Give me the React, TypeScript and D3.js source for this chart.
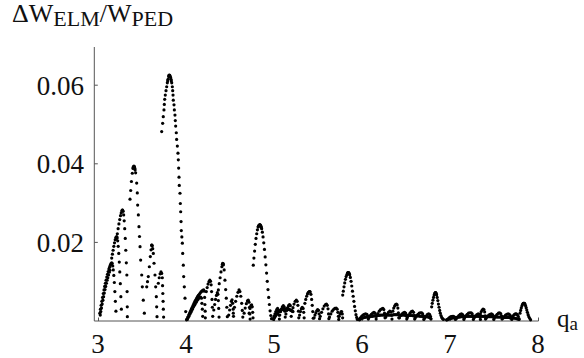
import React from "react";
import * as d3 from "d3";

const xTicks = [3, 4, 5, 6, 7, 8];
const yTicks = [0.02, 0.04, 0.06];
const yTickLabels = ["0.02", "0.04", "0.06"];

// each arc: [q_a, dW/W] points
const arcA1: [number, number][] = [
  [3.015, 0.002], [3.022, 0.003], [3.03, 0.004], [3.038, 0.005], [3.046, 0.006], [3.054, 0.007],
  [3.062, 0.0079], [3.07, 0.0088], [3.078, 0.0096], [3.086, 0.0104], [3.094, 0.0112], [3.102, 0.0119],
  [3.11, 0.0126], [3.118, 0.0132], [3.126, 0.0137], [3.134, 0.0142], [3.142, 0.0146], [3.15, 0.0148],
  [3.156, 0.0146], [3.162, 0.014], [3.168, 0.013], [3.174, 0.0116], [3.18, 0.0098], [3.186, 0.0075],
  [3.192, 0.005], [3.198, 0.0025],
];
const arcA1b: [number, number][] = [
  [3.02, 0.0015], [3.026, 0.0024], [3.034, 0.0033], [3.042, 0.0043], [3.05, 0.0053], [3.058, 0.0062],
  [3.066, 0.0071], [3.074, 0.008], [3.082, 0.0088], [3.09, 0.0096], [3.098, 0.0104], [3.106, 0.011],
  [3.114, 0.0117], [3.122, 0.0124], [3.13, 0.0129],
];
const arcA2: [number, number][] = [
  [3.15, 0.016], [3.158, 0.017], [3.166, 0.018], [3.174, 0.019], [3.182, 0.0199], [3.19, 0.0207],
  [3.198, 0.0213], [3.206, 0.0215], [3.212, 0.0212], [3.218, 0.0204], [3.224, 0.019], [3.23, 0.0172],
  [3.236, 0.015], [3.242, 0.0125], [3.248, 0.0095], [3.254, 0.0062], [3.26, 0.003],
];
const arcA3: [number, number][] = [
  [3.205, 0.021], [3.214, 0.0222], [3.223, 0.0235], [3.232, 0.0247], [3.241, 0.0258], [3.25, 0.0268],
  [3.258, 0.0275], [3.266, 0.028], [3.27, 0.0282], [3.274, 0.0282], [3.28, 0.0279], [3.286, 0.027],
  [3.292, 0.0255], [3.298, 0.0235], [3.304, 0.021], [3.31, 0.018], [3.316, 0.0148], [3.322, 0.0117],
  [3.325, 0.0075], [3.327, 0.0036], [3.328, 0.0011],
];
const arcA4: [number, number][] = [
  [3.358, 0.031], [3.366, 0.0332], [3.374, 0.0355], [3.384, 0.0376], [3.392, 0.0388], [3.395, 0.0391],
  [3.398, 0.0393], [3.403, 0.0394], [3.406, 0.0393], [3.41, 0.039], [3.413, 0.0388], [3.416, 0.0384],
  [3.422, 0.0377], [3.434, 0.0351], [3.441, 0.0326], [3.445, 0.0295], [3.453, 0.027], [3.46, 0.024],
  [3.466, 0.0215], [3.472, 0.0189], [3.479, 0.0155], [3.491, 0.0117], [3.498, 0.0087], [3.509, 0.0053],
  [3.521, 0.002],
];
const arcA5: [number, number][] = [
  [3.548, 0.0087], [3.557, 0.01], [3.566, 0.0113], [3.578, 0.0138], [3.589, 0.0164], [3.597, 0.0181],
  [3.604, 0.0193], [3.607, 0.0193], [3.61, 0.0191], [3.616, 0.0184], [3.623, 0.0172], [3.631, 0.0147],
  [3.642, 0.0117], [3.65, 0.0087], [3.657, 0.0062], [3.661, 0.0036], [3.665, 0.0011],
];
const arcA6: [number, number][] = [
  [3.68, 0.0096], [3.69, 0.011], [3.7, 0.012], [3.71, 0.0125], [3.718, 0.0121], [3.725, 0.011],
  [3.728, 0.009], [3.731, 0.007], [3.734, 0.005], [3.737, 0.003], [3.74, 0.001],
];
const arcA7: [number, number][] = [
  [3.718, 0.0482], [3.729, 0.0503], [3.736, 0.052], [3.744, 0.0537], [3.748, 0.0551], [3.752, 0.0564],
  [3.759, 0.0575], [3.767, 0.0586], [3.775, 0.0596], [3.782, 0.0606], [3.786, 0.0611], [3.79, 0.0615],
  [3.797, 0.0622], [3.8, 0.0625], [3.805, 0.0626], [3.81, 0.0625], [3.816, 0.0622], [3.82, 0.0619],
  [3.824, 0.0615], [3.828, 0.0611], [3.832, 0.0606], [3.839, 0.0596], [3.843, 0.0586],
  [3.847, 0.0575], [3.85, 0.0562], [3.858, 0.055], [3.862, 0.0537], [3.869, 0.0524], [3.873, 0.051],
  [3.877, 0.0496], [3.884, 0.0479], [3.888, 0.0462], [3.896, 0.0445], [3.903, 0.0427], [3.907, 0.041],
  [3.911, 0.0389], [3.915, 0.0366], [3.918, 0.0345], [3.926, 0.0325], [3.93, 0.0299], [3.934, 0.0278],
  [3.938, 0.0253], [3.941, 0.023], [3.947, 0.0214], [3.953, 0.0198], [3.957, 0.0172], [3.964, 0.0142],
  [3.968, 0.0113], [3.975, 0.0087], [3.983, 0.0058], [3.991, 0.0024], [4.0, 0.0003],
];
const arcB1: [number, number][] = [
  [4.005, 0.0005], [4.015, 0.001], [4.025, 0.0015], [4.035, 0.002], [4.045, 0.0025], [4.055, 0.003],
  [4.065, 0.0035], [4.075, 0.004], [4.085, 0.0045], [4.095, 0.005], [4.105, 0.0054], [4.115, 0.0058],
  [4.125, 0.0062], [4.135, 0.0065], [4.145, 0.0068], [4.155, 0.0071], [4.165, 0.0074], [4.175, 0.0076],
  [4.185, 0.0078], [4.195, 0.0079], [4.202, 0.0076], [4.206, 0.006], [4.209, 0.0042], [4.212, 0.0025],
  [4.214, 0.0008],
];
const arcB1b: [number, number][] = [
  [4.01, 0.0004], [4.02, 0.0009], [4.03, 0.0013], [4.04, 0.0018], [4.05, 0.0022], [4.06, 0.0027],
  [4.07, 0.0031], [4.08, 0.0036], [4.09, 0.004], [4.1, 0.0044], [4.11, 0.0048], [4.12, 0.0052],
  [4.13, 0.0055], [4.14, 0.0058], [4.15, 0.006], [4.16, 0.0061], [4.17, 0.0058], [4.175, 0.0045],
  [4.18, 0.003], [4.184, 0.0012],
];
const arcB2: [number, number][] = [
  [4.225, 0.0075], [4.235, 0.0085], [4.245, 0.0094], [4.255, 0.01], [4.265, 0.0104], [4.273, 0.0101],
  [4.28, 0.0092], [4.285, 0.0075], [4.29, 0.0055], [4.294, 0.0035], [4.298, 0.0012],
];
const arcB3: [number, number][] = [
  [4.362, 0.0079], [4.372, 0.0095], [4.382, 0.011], [4.392, 0.0125], [4.402, 0.0138], [4.407, 0.0144],
  [4.411, 0.0147], [4.416, 0.0146], [4.42, 0.0143], [4.428, 0.013], [4.437, 0.0104], [4.445, 0.008],
  [4.452, 0.0058], [4.458, 0.0035], [4.464, 0.0011],
];
const arcB3b: [number, number][] = [
  [4.31, 0.0028], [4.32, 0.0042], [4.33, 0.0055], [4.34, 0.0065], [4.35, 0.0072], [4.357, 0.0068],
  [4.362, 0.0052], [4.366, 0.0032], [4.37, 0.001],
];
const arcB4: [number, number][] = [
  [4.532, 0.002], [4.545, 0.0035], [4.558, 0.005], [4.572, 0.0063], [4.585, 0.0073], [4.597, 0.0079],
  [4.607, 0.0075], [4.617, 0.0063], [4.627, 0.0045], [4.634, 0.0027], [4.64, 0.001],
];
const arcB4b: [number, number][] = [
  [4.48, 0.0015], [4.49, 0.0028], [4.5, 0.004], [4.51, 0.005], [4.518, 0.0054], [4.525, 0.0045],
  [4.53, 0.003], [4.534, 0.0012],
];
const arcB5: [number, number][] = [
  [4.655, 0.002], [4.667, 0.0033], [4.68, 0.0044], [4.692, 0.0051], [4.702, 0.0053], [4.71, 0.0048],
  [4.716, 0.0035], [4.72, 0.0018], [4.723, 0.0005],
];
const arcB6: [number, number][] = [
  [4.712, 0.002], [4.722, 0.0032], [4.732, 0.0039], [4.74, 0.0041], [4.747, 0.0036], [4.752, 0.0022],
  [4.756, 0.0008],
];
const arcB7: [number, number][] = [
  [4.759, 0.0142], [4.766, 0.016], [4.774, 0.0178], [4.782, 0.0195], [4.79, 0.021], [4.798, 0.0222],
  [4.806, 0.0232], [4.814, 0.0239], [4.818, 0.0241], [4.822, 0.0243], [4.826, 0.0244], [4.83, 0.0244],
  [4.834, 0.0245], [4.838, 0.0244], [4.842, 0.0243], [4.846, 0.0241], [4.85, 0.0238], [4.854, 0.0235],
  [4.862, 0.0226], [4.87, 0.0214], [4.878, 0.0199], [4.886, 0.0182], [4.894, 0.0163],
  [4.902, 0.0143], [4.91, 0.0122], [4.918, 0.0101], [4.926, 0.008], [4.934, 0.006], [4.942, 0.0042],
  [4.95, 0.0026], [4.958, 0.0014], [4.966, 0.0006],
];
const arcC0: [number, number][] = [
  [4.99, 0.0004], [5.0, 0.0008], [5.01, 0.0012], [5.02, 0.0016], [5.03, 0.0019], [5.04, 0.0022],
  [5.05, 0.0024], [5.06, 0.0026], [5.07, 0.0028], [5.08, 0.0029], [5.09, 0.003], [5.1, 0.003],
  [5.11, 0.0029], [5.12, 0.003], [5.13, 0.0031], [5.14, 0.0031], [5.15, 0.003], [5.16, 0.003],
  [5.17, 0.0029], [5.18, 0.0028], [5.19, 0.0027], [5.2, 0.0026], [5.21, 0.0024],
];
const arcC1: [number, number][] = [
  [4.985, 0.0006], [4.995, 0.0012], [5.005, 0.0018], [5.015, 0.0024], [5.025, 0.0029], [5.035, 0.0032],
  [5.045, 0.0028], [5.05, 0.0015], [5.055, 0.0005],
];
const arcC2: [number, number][] = [
  [5.06, 0.0015], [5.07, 0.0024], [5.08, 0.0031], [5.09, 0.0036], [5.1, 0.0039], [5.11, 0.0036],
  [5.117, 0.0025], [5.122, 0.001],
];
const arcC3: [number, number][] = [
  [5.13, 0.0018], [5.14, 0.0027], [5.15, 0.0034], [5.16, 0.0039], [5.17, 0.0042], [5.18, 0.0039],
  [5.186, 0.0028], [5.19, 0.0012],
];
const arcC4: [number, number][] = [
  [5.2, 0.0025], [5.21, 0.0034], [5.222, 0.0043], [5.235, 0.005], [5.248, 0.0053], [5.258, 0.005],
  [5.266, 0.004], [5.272, 0.0025], [5.276, 0.0008],
];
const arcC5: [number, number][] = [
  [5.345, 0.0045], [5.355, 0.0055], [5.365, 0.0063], [5.375, 0.0069], [5.385, 0.0073], [5.395, 0.0075],
  [5.4, 0.0075], [5.405, 0.0074], [5.414, 0.0068], [5.422, 0.0055], [5.429, 0.004], [5.435, 0.0024],
  [5.44, 0.0007],
];
const arcC5b: [number, number][] = [
  [5.285, 0.0015], [5.295, 0.0024], [5.305, 0.0031], [5.315, 0.0035], [5.325, 0.0032], [5.332, 0.0022],
  [5.337, 0.0008],
];
const arcC6: [number, number][] = [
  [5.45, 0.0008], [5.46, 0.0015], [5.47, 0.0021], [5.48, 0.0026], [5.49, 0.0029], [5.5, 0.0027],
  [5.507, 0.0018], [5.512, 0.0006],
];
const arcC7: [number, number][] = [
  [5.52, 0.0012], [5.535, 0.0022], [5.55, 0.0031], [5.565, 0.0038], [5.58, 0.0042], [5.59, 0.0043],
  [5.6, 0.004], [5.608, 0.0031], [5.614, 0.0018], [5.618, 0.0006],
];
const arcC8: [number, number][] = [
  [5.625, 0.001], [5.64, 0.0018], [5.655, 0.0025], [5.67, 0.0029], [5.685, 0.0032], [5.7, 0.0033],
  [5.712, 0.003], [5.72, 0.0022], [5.726, 0.0012], [5.73, 0.0004],
];
const arcC9: [number, number][] = [
  [5.735, 0.0012], [5.745, 0.0018], [5.755, 0.0023], [5.763, 0.0024], [5.77, 0.0018], [5.774, 0.0008],
];
const arcC10: [number, number][] = [
  [5.775, 0.0066], [5.782, 0.0076], [5.79, 0.0087], [5.798, 0.0097], [5.806, 0.0106], [5.814, 0.0113],
  [5.822, 0.0118], [5.83, 0.0122], [5.834, 0.0123], [5.838, 0.0123], [5.842, 0.0123], [5.846, 0.0122],
  [5.85, 0.012], [5.854, 0.0118], [5.862, 0.0111],
  [5.87, 0.0101], [5.878, 0.0089], [5.886, 0.0076], [5.894, 0.0063], [5.902, 0.005], [5.91, 0.0037],
  [5.918, 0.0026], [5.926, 0.0016], [5.934, 0.0009], [5.941, 0.0004],
];
const bandD: [number, number][] = [
  [5.965, 0.0003], [5.98, 0.0005], [5.995, 0.0007], [6.01, 0.0008], [6.025, 0.0009], [6.04, 0.001],
  [6.055, 0.001], [6.07, 0.0011], [6.085, 0.0011], [6.1, 0.0012], [6.115, 0.0012], [6.13, 0.0013],
  [6.145, 0.0013], [6.16, 0.0014], [6.175, 0.0014], [6.19, 0.0014], [6.205, 0.0015], [6.22, 0.0015],
  [6.235, 0.0015], [6.25, 0.0015], [6.265, 0.0015], [6.28, 0.0015], [6.295, 0.0015], [6.31, 0.0015],
  [6.325, 0.0015], [6.34, 0.0015], [6.355, 0.0016], [6.37, 0.0016], [6.385, 0.0016], [6.4, 0.0016],
  [6.415, 0.0015], [6.43, 0.0015], [6.445, 0.0015], [6.46, 0.0015], [6.475, 0.0015], [6.49, 0.0014],
  [6.505, 0.0014], [6.52, 0.0014], [6.535, 0.0014], [6.55, 0.0014], [6.565, 0.0014], [6.58, 0.0013],
  [6.595, 0.0013], [6.61, 0.0013], [6.625, 0.0013], [6.64, 0.0013], [6.655, 0.0012], [6.67, 0.0012],
  [6.685, 0.0012], [6.7, 0.0012], [6.715, 0.0011], [6.73, 0.0011], [6.745, 0.001], [6.76, 0.0009],
  [6.775, 0.0007],
];
const arcD1: [number, number][] = [
  [5.96, 0.0004], [5.975, 0.0008], [5.99, 0.0012], [6.005, 0.0015], [6.02, 0.0017], [6.035, 0.0018],
  [6.05, 0.0017], [6.06, 0.0012], [6.066, 0.0005],
];
const arcD2: [number, number][] = [
  [6.07, 0.0008], [6.085, 0.0013], [6.1, 0.0017], [6.115, 0.002], [6.13, 0.0022], [6.142, 0.002],
  [6.15, 0.0013], [6.155, 0.0005],
];
const arcD3: [number, number][] = [
  [6.16, 0.0012], [6.175, 0.0019], [6.19, 0.0025], [6.205, 0.0029], [6.22, 0.0031], [6.232, 0.0032],
  [6.242, 0.0029], [6.25, 0.002], [6.256, 0.0008],
];
const arcD4: [number, number][] = [
  [6.265, 0.001], [6.28, 0.0017], [6.295, 0.0022], [6.31, 0.0025], [6.322, 0.0023], [6.33, 0.0015],
  [6.335, 0.0005],
];
const arcD5: [number, number][] = [
  [6.345, 0.0025], [6.355, 0.0033], [6.365, 0.0038], [6.375, 0.0042], [6.385, 0.0043], [6.394, 0.0041],
  [6.402, 0.0033], [6.408, 0.0021], [6.412, 0.0008],
];
const arcD6: [number, number][] = [
  [6.42, 0.0008], [6.435, 0.0014], [6.45, 0.0018], [6.465, 0.0021], [6.478, 0.0022], [6.49, 0.002],
  [6.498, 0.0013], [6.503, 0.0005],
];
const arcD7: [number, number][] = [
  [6.51, 0.0009], [6.525, 0.0015], [6.54, 0.002], [6.555, 0.0024], [6.568, 0.0025], [6.58, 0.0022],
  [6.588, 0.0014], [6.593, 0.0005],
];
const arcD8: [number, number][] = [
  [6.6, 0.0008], [6.615, 0.0013], [6.63, 0.0017], [6.645, 0.002], [6.66, 0.0021], [6.673, 0.0021],
  [6.684, 0.0018], [6.692, 0.0011], [6.697, 0.0004],
];
const arcD9: [number, number][] = [
  [6.705, 0.0007], [6.72, 0.0012], [6.735, 0.0016], [6.75, 0.0018], [6.762, 0.0017], [6.772, 0.0012],
  [6.778, 0.0005],
];
const arcD10: [number, number][] = [
  [6.786, 0.0036], [6.793, 0.0045], [6.8, 0.0053], [6.807, 0.006], [6.814, 0.0066], [6.821, 0.007],
  [6.824, 0.0071], [6.828, 0.0072], [6.831, 0.0072], [6.835, 0.0071], [6.838, 0.0069], [6.842, 0.0067],
  [6.849, 0.006], [6.856, 0.0052], [6.863, 0.0043],
  [6.87, 0.0035], [6.877, 0.0027], [6.884, 0.002], [6.892, 0.0014], [6.9, 0.0009], [6.91, 0.0006],
  [6.92, 0.0004],
];
const bandE: [number, number][] = [
  [6.955, 0.0003], [6.97, 0.0004], [6.985, 0.0005], [7.0, 0.0006], [7.015, 0.0007], [7.03, 0.0008],
  [7.045, 0.0008], [7.06, 0.0009], [7.075, 0.0009], [7.09, 0.001], [7.105, 0.001], [7.12, 0.0011],
  [7.135, 0.0011], [7.15, 0.0011], [7.165, 0.0012], [7.18, 0.0012], [7.195, 0.0012], [7.21, 0.0012],
  [7.225, 0.0012], [7.24, 0.0012], [7.255, 0.0012], [7.27, 0.0012], [7.285, 0.0012], [7.3, 0.0012],
  [7.315, 0.0012], [7.33, 0.0012], [7.345, 0.0012], [7.36, 0.0012], [7.375, 0.0012], [7.39, 0.0012],
  [7.405, 0.0012], [7.42, 0.0011], [7.435, 0.0011], [7.45, 0.0011], [7.465, 0.0011], [7.48, 0.0011],
  [7.495, 0.0011], [7.51, 0.0011], [7.525, 0.001], [7.54, 0.001], [7.555, 0.001], [7.57, 0.001],
  [7.585, 0.001], [7.6, 0.001], [7.615, 0.0009], [7.63, 0.0009], [7.645, 0.0009], [7.66, 0.0009],
  [7.675, 0.0008], [7.69, 0.0008], [7.705, 0.0008], [7.72, 0.0007], [7.735, 0.0007], [7.75, 0.0006],
  [7.765, 0.0005], [7.78, 0.0004],
];
const arcE1: [number, number][] = [
  [6.96, 0.0003], [6.975, 0.0006], [6.99, 0.0009], [7.005, 0.0011], [7.02, 0.0012], [7.035, 0.0012],
  [7.048, 0.0009], [7.056, 0.0004],
];
const arcE2: [number, number][] = [
  [7.065, 0.0006], [7.08, 0.001], [7.095, 0.0014], [7.11, 0.0017], [7.125, 0.0018], [7.138, 0.0016],
  [7.147, 0.001], [7.152, 0.0004],
];
const arcE3: [number, number][] = [
  [7.16, 0.0008], [7.175, 0.0013], [7.19, 0.0017], [7.205, 0.002], [7.22, 0.0021], [7.235, 0.0021],
  [7.247, 0.0018], [7.255, 0.0011], [7.26, 0.0004],
];
const arcE4: [number, number][] = [
  [7.27, 0.0008], [7.285, 0.0013], [7.3, 0.0016], [7.315, 0.0018], [7.327, 0.0016], [7.335, 0.001],
  [7.34, 0.0004],
];
const arcE5: [number, number][] = [
  [7.34, 0.0018], [7.35, 0.0024], [7.36, 0.0028], [7.37, 0.003], [7.38, 0.0029], [7.388, 0.0023],
  [7.394, 0.0013], [7.398, 0.0005],
];
const arcE6: [number, number][] = [
  [7.405, 0.0007], [7.42, 0.0012], [7.435, 0.0015], [7.45, 0.0017], [7.465, 0.0018], [7.478, 0.0016],
  [7.487, 0.001], [7.492, 0.0004],
];
const arcE7: [number, number][] = [
  [7.5, 0.0008], [7.515, 0.0013], [7.53, 0.0017], [7.545, 0.002], [7.558, 0.0021], [7.57, 0.0019],
  [7.58, 0.0013], [7.586, 0.0005],
];
const arcE8: [number, number][] = [
  [7.595, 0.0007], [7.61, 0.0011], [7.625, 0.0015], [7.64, 0.0017], [7.655, 0.0018], [7.668, 0.0017],
  [7.68, 0.0014], [7.69, 0.0009], [7.696, 0.0004],
];
const arcE9: [number, number][] = [
  [7.7, 0.0008], [7.712, 0.0013], [7.724, 0.0016], [7.736, 0.0018], [7.748, 0.0018], [7.76, 0.0016],
  [7.77, 0.0012], [7.778, 0.0006],
];
const arcE10: [number, number][] = [
  [7.79, 0.002], [7.797, 0.0027], [7.804, 0.0033], [7.811, 0.0038], [7.818, 0.0042], [7.825, 0.0044],
  [7.828, 0.0045], [7.832, 0.0045], [7.835, 0.0045], [7.839, 0.0045], [7.842, 0.0044], [7.846, 0.0043],
  [7.853, 0.0039], [7.86, 0.0034], [7.867, 0.0028],
  [7.874, 0.0022], [7.882, 0.0016], [7.89, 0.0011], [7.9, 0.0007], [7.91, 0.0003],
];

const arcs = [
  arcA1, arcA1b, arcA2, arcA3, arcA4, arcA5, arcA6, arcA7,
  arcB1, arcB1b, arcB2, arcB3, arcB3b, arcB4, arcB4b, arcB5, arcB6, arcB7,
  arcC0, arcC1, arcC2, arcC3, arcC4, arcC5, arcC5b, arcC6, arcC7, arcC8, arcC9, arcC10,
  bandD, arcD1, arcD2, arcD3, arcD4, arcD5, arcD6, arcD7, arcD8, arcD9, arcD10,
  bandE, arcE1, arcE2, arcE3, arcE4, arcE5, arcE6, arcE7, arcE8, arcE9, arcE10,
];

const W = 584;
const H = 358;
const FONT =
  '"Liberation Serif", "Times New Roman", Times, Tinos, "Nimbus Roman", "Noto Serif", "DejaVu Serif", FreeSerif, serif';

export default function App() {
  const x = d3.scaleLinear().domain([3, 8]).range([98.5, 538.5]);
  const y = d3.scaleLinear().domain([0, 0.02]).range([321, 242.4]);
  const x0 = x.invert(94.3);
  const yTop = y.invert(47);
  const axisColor = "#555";
  const points = arcs.flat();
  return (
    <svg width={W} height={H} style={{ position: "absolute", left: 0, top: 0, background: "#fff" }}>
      <rect width={W} height={H} fill="#fff" />
      <line x1={x(x0)} x2={x(x0)} y1={y(0)} y2={y(yTop)} stroke={axisColor} strokeWidth={1} />
      <line x1={x(x0)} x2={x(8)} y1={y(0)} y2={y(0)} stroke={axisColor} strokeWidth={1} />
      <g fontFamily={FONT} fill="#111">
        {yTicks.map((t, i) => (
          <g key={"y" + i}>
            <line x1={x(x0)} x2={x(x0) + 3.5} y1={y(t)} y2={y(t)} stroke={axisColor} strokeWidth={1} />
            <text x={84} y={y(t) + 9.5} textAnchor="end" fontSize={27}>
              {yTickLabels[i]}
            </text>
          </g>
        ))}
        {xTicks.map((t) => (
          <g key={"x" + t}>
            <line x1={x(t)} x2={x(t)} y1={y(0)} y2={y(0) - 3.5} stroke={axisColor} strokeWidth={1} />
            <text x={x(t) - 0.5} y={353} textAnchor="middle" fontSize={27}>
              {t}
            </text>
          </g>
        ))}
        <text x={12} y={22} fontSize={26}>
          ΔW<tspan fontSize={22} dy={4}>ELM</tspan>
          <tspan dy={-4}>/W</tspan>
          <tspan fontSize={22} dy={4}>PED</tspan>
        </text>
        <text x={557} y={327} fontSize={25}>
          q<tspan fontSize={19} dy={3}>a</tspan>
        </text>
      </g>
      {points.map((p, i) => (
        <circle key={i} cx={x(p[0])} cy={y(p[1])} r={1.6} fill="#000" />
      ))}
    </svg>
  );
}
